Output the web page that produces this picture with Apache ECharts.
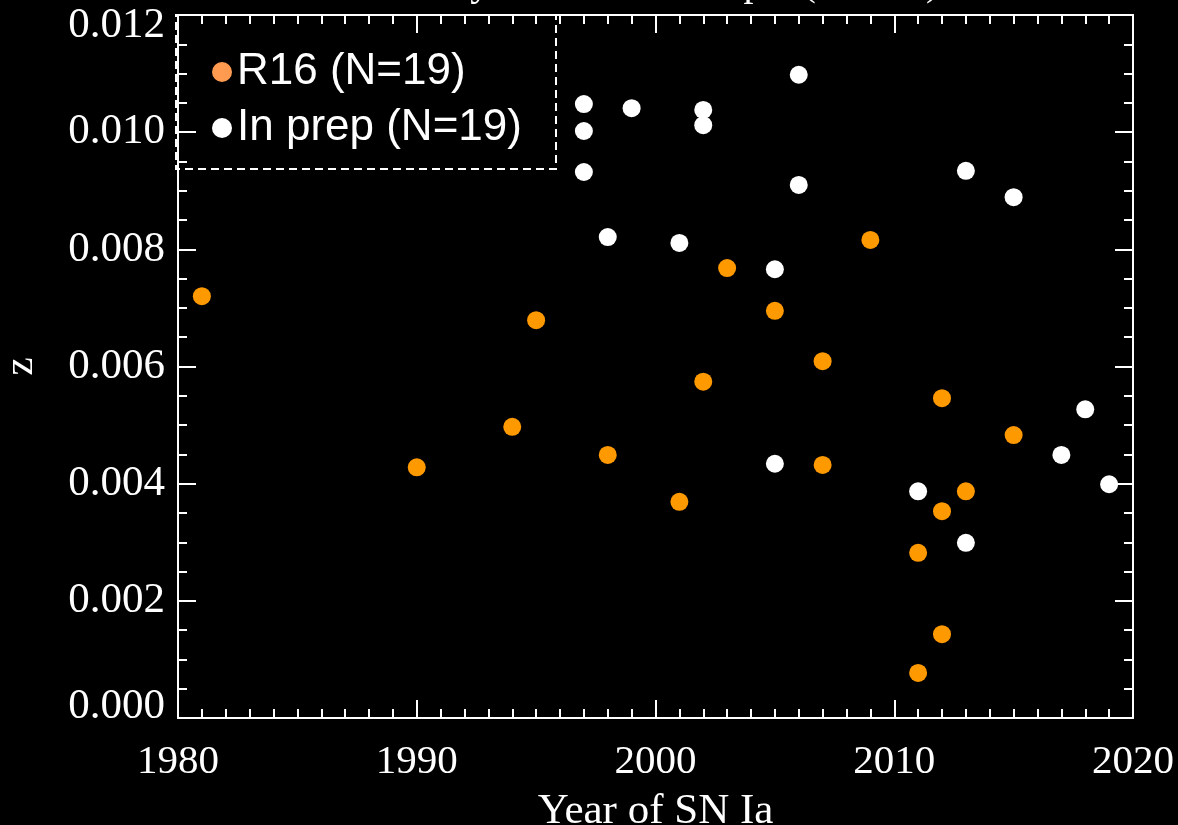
<!DOCTYPE html>
<html>
<head>
<meta charset="utf-8">
<title>Year of SN Ia vs z</title>
<script src="https://cdn.jsdelivr.net/npm/echarts@6/dist/echarts.min.js"></script>
<style>
  html, body { margin: 0; padding: 0; background: #000; }
  #chart { width: 1178px; height: 825px; }
</style>
</head>
<body>
<div id="chart"></div>
<script>
// Discovery year and redshift of each supernova host
const r16Years = [1981, 1990, 1994, 1995, 1998, 2001, 2002, 2003, 2005, 2007, 2007, 2009, 2015, 2013, 2012, 2011, 2012, 2011, 2012];
const r16Z     = [0.00720, 0.00428, 0.00497, 0.00679, 0.00449, 0.00369, 0.00574, 0.00768, 0.00695, 0.00609, 0.00432, 0.00816, 0.00483, 0.00387, 0.00353, 0.00282, 0.00143, 0.00077, 0.00546];

const prepYears = [1997, 1997, 1997, 1999, 2002, 2002, 2006, 2006, 1998, 2001, 2005, 2013, 2015, 2005, 2018, 2017, 2019, 2011, 2013];
const prepZ     = [0.01048, 0.01002, 0.00932, 0.01041, 0.01038, 0.01012, 0.01098, 0.00910, 0.00821, 0.00811, 0.00766, 0.00934, 0.00889, 0.00434, 0.00527, 0.00449, 0.00399, 0.00387, 0.00299];

const seriesNames = ['R16 (N=19)', 'In prep (N=19)'];
const yearTicks = [1980, 1990, 2000, 2010, 2020];
const zTicks = [0.000, 0.002, 0.004, 0.006, 0.008, 0.010, 0.012];
const titleText = 'Nearby Calibrator Sample (z<0.01)';

const serif = 'Liberation Serif';
const sans = 'Liberation Sans';

const pairs = (xs, ys) => xs.map((x, i) => [x, ys[i]]);

const chart = echarts.init(document.getElementById('chart'));

const axisLineStyle = { color: '#fff', width: 2 };
const majorTick = { show: true, inside: true, length: 18, lineStyle: { color: '#fff', width: 2 } };
const minorTick = { show: true, length: 9, lineStyle: { color: '#fff', width: 2 } };

const xCommon = {
  type: 'value',
  min: yearTicks[0],
  max: yearTicks[yearTicks.length - 1],
  interval: 10,
  axisLine: { show: true, onZero: false, lineStyle: axisLineStyle },
  axisTick: majorTick,
  minorTick: Object.assign({ splitNumber: 10 }, minorTick),
  splitLine: { show: false }
};
const yCommon = {
  type: 'value',
  min: zTicks[0],
  max: zTicks[zTicks.length - 1],
  interval: 0.002,
  axisLine: { show: true, onZero: false, lineStyle: axisLineStyle },
  axisTick: majorTick,
  minorTick: Object.assign({ splitNumber: 4 }, minorTick),
  splitLine: { show: false }
};

// z labels: the two end labels sit slightly inside the frame
const zLabelFont = { color: '#fff', fontFamily: serif, fontSize: 43 };
const zMin = zTicks[0], zMax = zTicks[zTicks.length - 1];

chart.setOption({
  backgroundColor: '#000',
  animation: false,
  grid: { left: 178, right: 45, top: 15, bottom: 107, containLabel: false, outerBoundsMode: 'none' },
  legend: {
    orient: 'vertical',
    left: 207,
    top: 42,
    itemWidth: 20,
    itemHeight: 20,
    itemGap: 6,
    icon: 'circle',
    textStyle: { color: '#fff', fontFamily: sans, fontSize: 44, lineHeight: 50 },
    data: [
      { name: seriesNames[0], itemStyle: { color: '#FF9B50', opacity: 1 } },
      { name: seriesNames[1], itemStyle: { color: '#ffffff', opacity: 1 } }
    ]
  },
  xAxis: [
    Object.assign({}, xCommon, {
      position: 'bottom',
      name: 'Year of SN Ia',
      nameLocation: 'middle',
      nameGap: 72,
      nameTextStyle: { color: '#fff', fontFamily: serif, fontSize: 43 },
      axisLabel: {
        color: '#fff', fontFamily: serif, fontSize: 41, margin: 24,
        formatter: v => String(v)
      }
    }),
    Object.assign({}, xCommon, { position: 'top', axisLabel: { show: false } })
  ],
  yAxis: [
    Object.assign({}, yCommon, {
      position: 'left',
      name: 'z',
      nameLocation: 'middle',
      nameRotate: 90,
      nameGap: 136,
      nameTextStyle: { color: '#fff', fontFamily: serif, fontSize: 41 },
      axisLabel: Object.assign({}, zLabelFont, {
        margin: 13,
        formatter: v => {
          const s = v.toFixed(3);
          if (Math.abs(v - zMax) < 1e-9) return '{hi|' + s + '}';
          if (Math.abs(v - zMin) < 1e-9) return '{lo|' + s + '}';
          return s;
        },
        rich: {
          hi: Object.assign({ padding: [22, 0, 0, 0] }, zLabelFont),
          lo: Object.assign({ padding: [0, 0, 22, 0] }, zLabelFont)
        }
      })
    }),
    Object.assign({}, yCommon, { position: 'right', axisLabel: { show: false } })
  ],
  series: [
    {
      name: seriesNames[0],
      type: 'scatter',
      symbol: 'circle',
      symbolSize: 18,
      itemStyle: { color: '#FF9900', opacity: 1 },
      data: pairs(r16Years, r16Z)
    },
    {
      name: seriesNames[1],
      type: 'scatter',
      symbol: 'circle',
      symbolSize: 18,
      itemStyle: { color: '#ffffff', opacity: 1 },
      data: pairs(prepYears, prepZ)
    }
  ],
  graphic: [
    {
      type: 'rect',
      silent: true,
      shape: { x: 176, y: 15, width: 380, height: 154 },
      style: { fill: 'none', stroke: '#fff', lineWidth: 2, lineDash: [8, 5] }
    },
    {
      type: 'text',
      silent: true,
      x: 656,
      y: 4,
      style: {
        text: titleText,
        fill: '#fff',
        font: '40px "' + serif + '"',
        align: 'center',
        verticalAlign: 'bottom'
      }
    }
  ]
});
</script>
</body>
</html>
